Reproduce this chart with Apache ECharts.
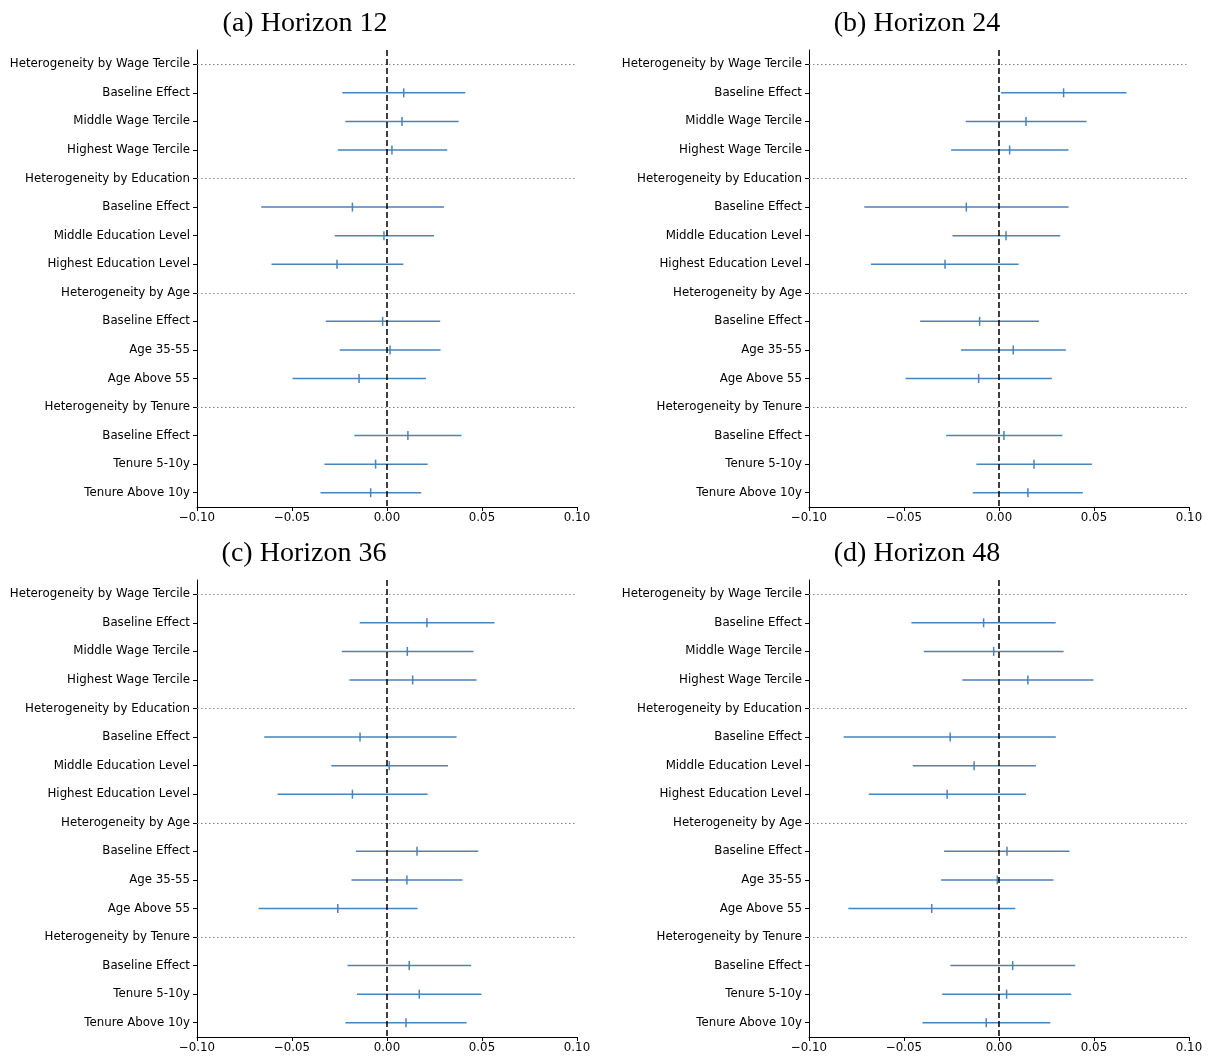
<!DOCTYPE html>
<html><head><meta charset="utf-8">
<script src="https://cdn.jsdelivr.net/npm/echarts@6/dist/echarts.min.js"></script>
<style>html,body{margin:0;padding:0;background:#fff}#c{width:1209px;height:1059px}</style>
</head><body><div id="c"></div>
<script>
const categories = [
  'Heterogeneity by Wage Tercile','Baseline Effect','Middle Wage Tercile','Highest Wage Tercile',
  'Heterogeneity by Education','Baseline Effect','Middle Education Level','Highest Education Level',
  'Heterogeneity by Age','Baseline Effect','Age 35-55','Age Above 55',
  'Heterogeneity by Tenure','Baseline Effect','Tenure 5-10y','Tenure Above 10y'
];
const headerRows = [0, 4, 8, 12];
const panelTitles = ['(a) Horizon 12', '(b) Horizon 24', '(c) Horizon 36', '(d) Horizon 48'];
const xTicks = [-0.10, -0.05, 0.00, 0.05, 0.10];

const h12_est = [null, 0.0088, 0.0079, 0.0026, null, -0.0182, -0.0016, -0.0263, null, -0.0023, 0.0016, -0.0147, null, 0.0110, -0.0060, -0.0086];
const h12_lo  = [null, -0.0235, -0.0219, -0.0259, null, -0.0662, -0.0275, -0.0608, null, -0.0322, -0.0249, -0.0497, null, -0.0172, -0.0329, -0.0350];
const h12_hi  = [null, 0.0412, 0.0377, 0.0317, null, 0.0300, 0.0247, 0.0086, null, 0.0280, 0.0282, 0.0205, null, 0.0392, 0.0214, 0.0180];

const h24_est = [null, 0.0340, 0.0142, 0.0056, null, -0.0172, 0.0037, -0.0284, null, -0.0102, 0.0075, -0.0107, null, 0.0026, 0.0184, 0.0152];
const h24_lo  = [null, 0.0011, -0.0175, -0.0252, null, -0.0709, -0.0245, -0.0674, null, -0.0415, -0.0200, -0.0492, null, -0.0278, -0.0119, -0.0138];
const h24_hi  = [null, 0.0671, 0.0461, 0.0366, null, 0.0366, 0.0322, 0.0103, null, 0.0210, 0.0352, 0.0278, null, 0.0333, 0.0489, 0.0441];

const h36_est = [null, 0.0210, 0.0107, 0.0135, null, -0.0142, 0.0012, -0.0182, null, 0.0158, 0.0105, -0.0259, null, 0.0117, 0.0170, 0.0100];
const h36_lo  = [null, -0.0144, -0.0238, -0.0198, null, -0.0646, -0.0293, -0.0576, null, -0.0163, -0.0187, -0.0676, null, -0.0208, -0.0158, -0.0219];
const h36_hi  = [null, 0.0566, 0.0455, 0.0471, null, 0.0366, 0.0321, 0.0214, null, 0.0480, 0.0398, 0.0161, null, 0.0443, 0.0497, 0.0419];

const h48_est = [null, -0.0081, -0.0028, 0.0152, null, -0.0257, -0.0131, -0.0273, null, 0.0042, -0.0009, -0.0354, null, 0.0072, 0.0040, -0.0067];
const h48_lo  = [null, -0.0461, -0.0396, -0.0193, null, -0.0818, -0.0454, -0.0685, null, -0.0289, -0.0305, -0.0793, null, -0.0256, -0.0299, -0.0403];
const h48_hi  = [null, 0.0298, 0.0340, 0.0497, null, 0.0299, 0.0194, 0.0142, null, 0.0371, 0.0287, 0.0086, null, 0.0401, 0.0380, 0.0270];

const panels = [
  {est: h12_est, lo: h12_lo, hi: h12_hi},
  {est: h24_est, lo: h24_lo, hi: h24_hi},
  {est: h36_est, lo: h36_lo, hi: h36_hi},
  {est: h48_est, lo: h48_lo, hi: h48_hi}
];

const BAR = '#4b82b8';
const gridPos = [
  {left: 197, top: 50, width: 380, height: 457},
  {left: 809, top: 50, width: 380, height: 457},
  {left: 197, top: 580, width: 380, height: 457},
  {left: 809, top: 580, width: 380, height: 457}
];
const titlePos = [
  {x: 300, y: 5}, {x: 912, y: 5}, {x: 299, y: 535}, {x: 912, y: 535}
];

function fmtTick(v) {
  const s = (Math.round(v * 100) / 100).toFixed(2);
  return s.replace('-', '\u2212');
}

function renderErr(params, api) {
  const y = api.value(0);
  const a = api.coord([api.value(1), y]);
  const b = api.coord([api.value(2), y]);
  const e = api.coord([api.value(3), y]);
  return {
    type: 'group',
    children: [
      {type: 'line', shape: {x1: a[0], y1: a[1], x2: b[0], y2: b[1]}, style: {stroke: BAR, lineWidth: 1.5}},
      {type: 'line', shape: {x1: e[0], y1: e[1] - 4.5, x2: e[0], y2: e[1] + 4.5}, style: {stroke: BAR, lineWidth: 1.5}}
    ]
  };
}

const option = {
  animation: false,
  backgroundColor: '#fff',
  title: panelTitles.map((t, i) => ({
    text: t, left: titlePos[i].x, top: titlePos[i].y, textAlign: 'center',
    textStyle: {fontFamily: 'Liberation Serif', fontWeight: 'normal', fontSize: 28, color: '#000'}
  })),
  grid: gridPos.map(g => Object.assign({containLabel: false}, g)),
  xAxis: gridPos.map((g, i) => ({
    type: 'value', gridIndex: i, min: xTicks[0], max: xTicks[xTicks.length - 1], interval: 0.05,
    axisLine: {show: true, onZero: false, lineStyle: {color: '#000', width: 1}},
    axisTick: {show: true, length: 4, lineStyle: {color: '#000'}},
    axisLabel: {fontFamily: 'DejaVu Sans', fontSize: 11.8, color: '#000', margin: 5, formatter: fmtTick},
    splitLine: {show: false}
  })),
  yAxis: gridPos.map((g, i) => ({
    type: 'category', gridIndex: i, data: categories, inverse: true,
    axisLine: {show: true, onZero: false, lineStyle: {color: '#000', width: 1}},
    axisTick: {show: true, alignWithLabel: true, length: 4, lineStyle: {color: '#000'}},
    axisLabel: {interval: 0, fontFamily: 'DejaVu Sans', fontSize: 11.8, color: '#000', margin: 7},
    splitLine: {show: false}
  })),
  series: panels.flatMap((p, i) => {
    const data = [];
    p.est.forEach((v, k) => { if (v !== null) data.push([k, p.lo[k], p.hi[k], v]); });
    return [
      {
        type: 'custom', xAxisIndex: i, yAxisIndex: i, renderItem: renderErr, data: data,
        encode: {x: [1, 2, 3], y: 0}, z: 2, silent: true,
        markLine: {
          silent: true, symbol: ['none', 'none'], label: {show: false}, z: 1,
          lineStyle: {color: '#888', width: 1, type: [1.5, 2.5]},
          data: headerRows.map(r => ({yAxis: r}))
        }
      },
      {
        type: 'custom', xAxisIndex: i, yAxisIndex: i, renderItem: () => null, data: [], z: 5, silent: true,
        markLine: {
          silent: true, symbol: ['none', 'none'], label: {show: false}, z: 6,
          lineStyle: {color: '#000', width: 1.5, type: [6, 3]},
          data: [{xAxis: 0}]
        }
      }
    ];
  })
};

const chart = echarts.init(document.getElementById('c'), null, {renderer: 'canvas'});
chart.setOption(option);
</script>
</body></html>
